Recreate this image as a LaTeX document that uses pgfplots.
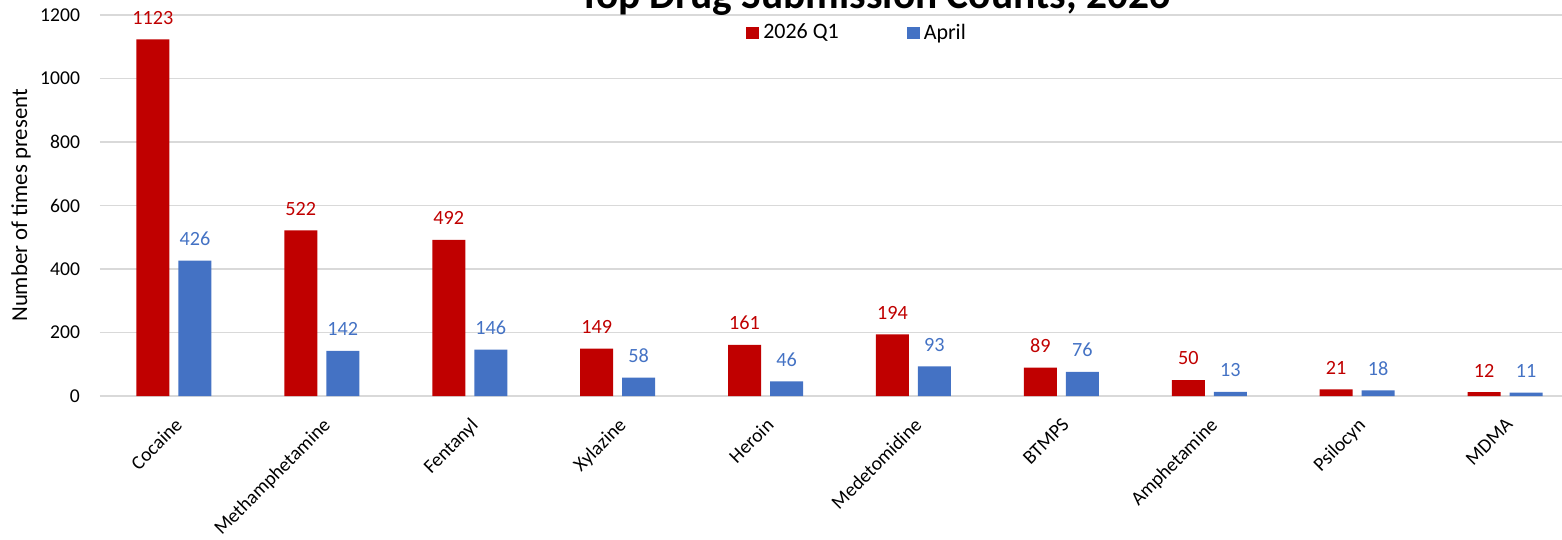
\documentclass[border=0pt]{standalone}
\usepackage{fontspec}
\setmainfont{Carlito}
\usepackage{pgfplots}
\pgfplotsset{compat=1.18}
\definecolor{cred}{HTML}{C00000}
\definecolor{cblue}{HTML}{4472C4}
\definecolor{cgrid}{HTML}{D9D9D9}
\newcommand{\tickfont}{\fontsize{9.8}{12}\selectfont}
\newcommand{\lblfont}{\fontsize{10.1}{12}\selectfont}
\begin{document}
\begin{tikzpicture}
\begin{axis}[
  at={(0,0)}, anchor=south west,
  scale only axis, width=731pt, height=190.5pt,
  xmin=-0.5, xmax=9.385, ymin=0, ymax=1200,
  ytick={0,200,...,1200},
  xtick={0,...,9},
  xticklabels={Cocaine,Methamphetamine,Fentanyl,Xylazine,Heroin,Medetomidine,BTMPS,Amphetamine,Psilocyn,MDMA},
  xticklabel style={rotate=45, anchor=north east, font=\tickfont, xshift=-4pt, yshift=-3.8pt},
  yticklabel style={font=\tickfont, xshift=-6.5pt},
  ymajorgrids, major grid style={cgrid, line width=0.8pt},
  axis line style={draw=none},
  major tick length=0pt,
  ybar=4.5pt, bar width=16.5pt,
  /pgf/number format/assume math mode=true,
  /pgf/number format/1000 sep={},
  nodes near coords,
  every node near coord/.append style={font=\lblfont, yshift=4pt},
  legend image code/.code={\fill[#1] (0pt,-3.1pt) rectangle (6.5pt,3.1pt);},
  legend style={draw=none, at={(rel axis cs:0.5185,1)}, anchor=center, yshift=-9pt,
    legend columns=2, font=\fontsize{11}{13}\selectfont,
    /tikz/every even column/.append style={column sep=32pt}},
]
\addplot[fill=cred, draw=none, every node near coord/.append style={text=cred}] coordinates {
(0,1123) (1,522) (2,492) (3,149) (4,161) (5,194) (6,89) (7,50) (8,21) (9,12)};
\addplot[fill=cblue, draw=none, every node near coord/.append style={text=cblue}] coordinates {
(0,426) (1,142) (2,146) (3,58) (4,46) (5,93) (6,76) (7,13) (8,18) (9,11)};
\legend{2026 Q1, April}
\end{axis}
\node[rotate=90, font=\fontsize{11.4}{13.5}\selectfont] at (-39.5pt,95.25pt) {Number of times present};
\node[anchor=base, font=\fontsize{20.7}{24}\selectfont\bfseries] at (387.25pt,193.85pt) {Top Drug Submission Counts, 2026};
\pgfresetboundingbox
\path[use as bounding box] (-50pt,-72pt) rectangle (731pt,198pt);
\end{tikzpicture}
\end{document}
